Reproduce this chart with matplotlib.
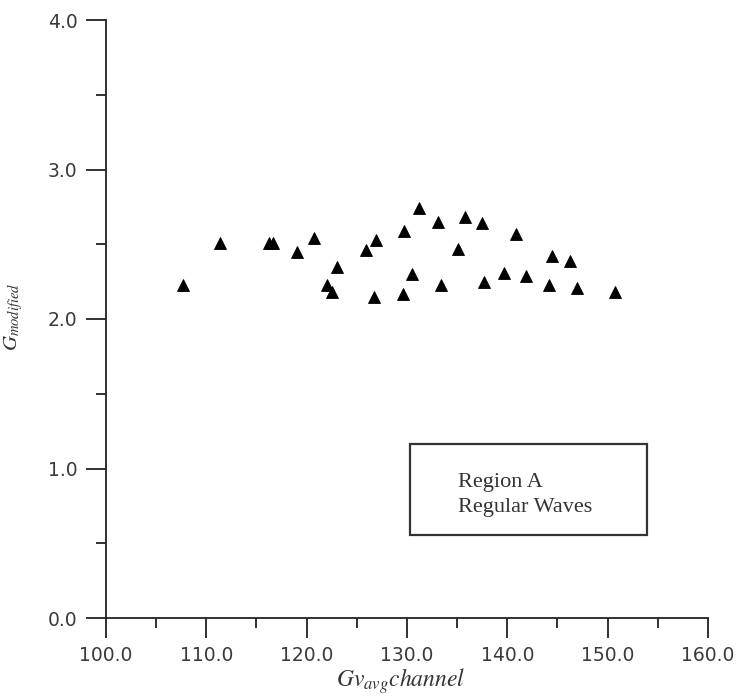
import matplotlib
matplotlib.use("Agg")
import matplotlib.pyplot as plt
from matplotlib.patches import Rectangle
from matplotlib.ticker import MultipleLocator, FormatStrFormatter

# Data
gv_avg_channel = [107.7, 111.4, 116.2, 116.6, 119.0, 120.7, 122.0, 122.5, 123.0,
                  125.9, 126.9, 126.7, 129.7, 129.6, 130.5, 131.2, 133.1, 133.4,
                  135.1, 135.8, 137.5, 137.7, 139.7, 140.9, 141.9, 144.2, 144.5,
                  146.2, 146.9, 150.7]
g_modified = [2.23, 2.51, 2.51, 2.51, 2.45, 2.54, 2.23, 2.18, 2.35,
              2.46, 2.53, 2.15, 2.59, 2.17, 2.30, 2.74, 2.65, 2.23,
              2.47, 2.68, 2.64, 2.25, 2.31, 2.57, 2.29, 2.23, 2.42,
              2.39, 2.21, 2.18]
x_ticks = [100.0, 110.0, 120.0, 130.0, 140.0, 150.0, 160.0]
y_ticks = [0.0, 1.0, 2.0, 3.0, 4.0]
legend_lines = ["Region A", "Regular Waves"]

W, H = 737, 699
fig = plt.figure(figsize=(W / 100, H / 100), dpi=100)
ax = fig.add_axes([106 / W, 1 - 618 / H, (708 - 106) / W, (618 - 20) / H])

ax.plot(gv_avg_channel, g_modified, linestyle="none", marker="^",
        markersize=8.5, color="black", markeredgewidth=0.6)

ax.set_xlim(100, 160)
ax.set_ylim(0, 4)
ax.set_xticks(x_ticks)
ax.set_yticks(y_ticks)
ax.xaxis.set_minor_locator(MultipleLocator(5))
ax.yaxis.set_minor_locator(MultipleLocator(0.5))
ax.xaxis.set_major_formatter(FormatStrFormatter("%.1f"))
ax.yaxis.set_major_formatter(FormatStrFormatter("%.1f"))

for s in ["top", "right"]:
    ax.spines[s].set_visible(False)
for s in ["left", "bottom"]:
    ax.spines[s].set_linewidth(1.3)
    ax.spines[s].set_color("#222222")

ax.tick_params(which="major", direction="out", length=14.5, width=1.3,
               color="#222222", labelsize=13.5, labelcolor="#3a3a3a", pad=6)
ax.tick_params(which="minor", direction="out", length=7.5, width=1.3,
               color="#222222")
for lab in ax.get_xticklabels() + ax.get_yticklabels():
    lab.set_fontfamily("DejaVu Sans")

plt.rcParams["mathtext.fontset"] = "stix"

# Axis labels
fig.text(401 / W, 1 - 687 / H, r"$Gv_{avg}channel$", ha="center", va="baseline",
         fontsize=17, color="#333333")
fig.text(14 / W, 1 - 317 / H, r"$G_{modified}$", ha="center", va="center",
         rotation=90, fontsize=15, color="#333333")

# Text box
rect = Rectangle((130.3, 0.555), 153.9 - 130.3, 1.164 - 0.555, fill=False,
                 edgecolor="#333333", linewidth=1.6)
ax.add_patch(rect)
ax.text(135.1, 0.876, legend_lines[0], ha="left", va="baseline",
        fontsize=16, family="Liberation Serif", color="#333333")
ax.text(135.1, 0.709, legend_lines[1], ha="left", va="baseline",
        fontsize=16, family="Liberation Serif", color="#333333")

fig.savefig("out.png", dpi=100)
